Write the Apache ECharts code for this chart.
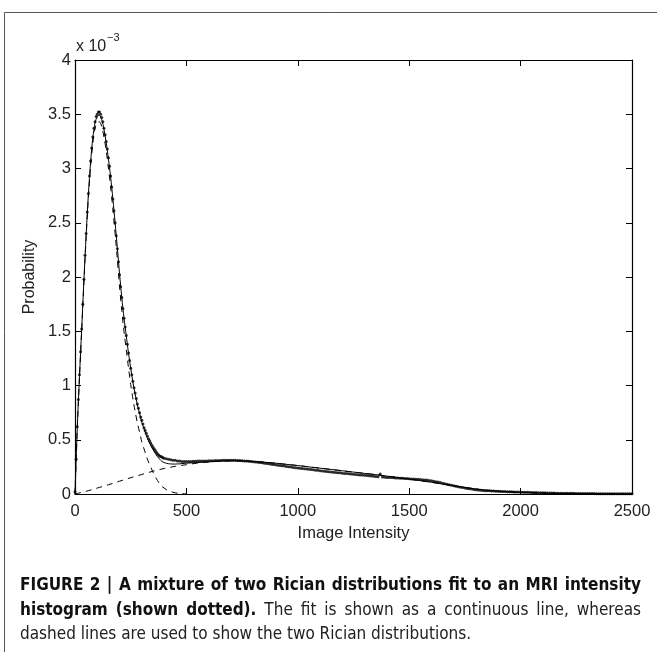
<!DOCTYPE html>
<html>
<head>
<meta charset="utf-8">
<script src="https://cdn.jsdelivr.net/npm/echarts@6/dist/echarts.min.js"></script>
<style>
html,body{margin:0;padding:0;background:#fff;}
#chart{width:657px;height:652px;}
</style>
</head>
<body>
<div id="chart"></div>
<script>
// ---- Data (probability values in units of 1e-3) ----
// Histogram, fine part: intensity 0..400 in steps of 5
var histFineStep = 5;
var histFineY = [0.02,0.32,0.62,0.87,1.1,1.31,1.52,1.75,1.98,2.2,
  2.4,2.6,2.77,2.93,3.07,3.19,3.29,3.37,3.43,3.48,
  3.5,3.52,3.52,3.5,3.47,3.43,3.37,3.31,3.25,3.18,
  3.1,3.02,2.93,2.83,2.72,2.61,2.5,2.38,2.26,2.14,
  2.02,1.91,1.81,1.71,1.62,1.54,1.46,1.38,1.3,1.23,
  1.16,1.1,1.04,0.98,0.93,0.88,0.83,0.79,0.75,0.71,
  0.68,0.645,0.61,0.585,0.56,0.535,0.51,0.49,0.47,0.45,
  0.43,0.415,0.4,0.385,0.37,0.36,0.35,0.345,0.34,0.335,
  0.33];
// Histogram, coarse part: intensity 410..2500 in steps of 10
var histCoarseStart = 410;
var histCoarseStep = 10;
var histCoarseY = [0.325,0.32,0.315,0.31,0.31,0.305,0.305,0.3,0.3,0.3,
  0.3,0.3,0.302,0.302,0.303,0.303,0.304,0.305,0.305,0.306,
  0.306,0.307,0.308,0.308,0.309,0.31,0.31,0.31,0.311,0.311,
  0.31,0.31,0.309,0.308,0.306,0.305,0.303,0.301,0.299,0.297,
  0.295,0.292,0.29,0.287,0.284,0.281,0.278,0.275,0.272,0.269,
  0.266,0.263,0.26,0.257,0.254,0.251,0.248,0.245,0.243,0.24,
  0.238,0.235,0.233,0.23,0.228,0.225,0.223,0.22,0.218,0.215,
  0.213,0.21,0.208,0.206,0.203,0.201,0.199,0.197,0.195,0.192,
  0.19,0.188,0.186,0.184,0.182,0.18,0.178,0.176,0.174,0.172,
  0.17,0.168,0.166,0.164,0.162,0.16,0.185,0.157,0.155,0.153,
  0.152,0.151,0.15,0.148,0.147,0.146,0.145,0.143,0.142,0.14,
  0.139,0.138,0.137,0.135,0.134,0.132,0.13,0.128,0.125,0.122,
  0.118,0.114,0.11,0.105,0.1,0.095,0.09,0.086,0.081,0.077,
  0.072,0.067,0.063,0.059,0.055,0.051,0.048,0.045,0.042,0.039,
  0.037,0.035,0.033,0.031,0.03,0.029,0.028,0.027,0.026,0.025,
  0.024,0.023,0.022,0.021,0.021,0.02,0.019,0.019,0.018,0.018,
  0.017,0.016,0.016,0.015,0.014,0.014,0.013,0.012,0.012,0.011,
  0.011,0.01,0.01,0.009,0.009,0.008,0.008,0.008,0.007,0.007,
  0.007,0.006,0.006,0.006,0.005,0.005,0.005,0.005,0.004,0.004,
  0.004,0.004,0.004,0.003,0.003,0.003,0.003,0.003,0.003,0.003,
  0.003,0.002,0.002,0.002,0.002,0.002,0.002,0.002,0.002,0.002];

// Mixture fit (continuous line)
var fitX = [0,10,20,30,40,50,60,70,80,90,100,110,120,130,140,150,160,170,180,190,
  200,210,220,230,240,250,260,270,280,290,300,310,320,330,340,350,360,370,380,390,
  400,410,420,430,440,450,460,470,480,490,500,
  550,600,650,700,750,800,850,900,950,1000,1050,1100,1150,1200,1250,1300,1350,1400,1450,1500,
  1550,1600,1650,1700,1750,1800,1850,1900,1950,2000,2050,2100,2150,2200,2250,2300,2350,2400,2450,2500];
var fitY = [0,0.6,1.08,1.52,1.97,2.39,2.76,3.06,3.28,3.42,3.48,3.49,3.45,3.36,3.24,3.09,2.92,2.72,2.5,2.27,
  2.03,1.81,1.62,1.46,1.3,1.16,1.03,0.92,0.82,0.74,0.66,0.6,0.54,0.49,0.45,0.41,0.375,0.345,0.32,0.3,
  0.29,0.283,0.279,0.277,0.276,0.276,0.277,0.278,0.28,0.282,0.284,
  0.29,0.297,0.303,0.306,0.305,0.3,0.293,0.284,0.273,0.262,0.25,0.238,0.226,0.214,0.202,0.19,0.178,0.165,0.151,0.137,
  0.123,0.108,0.092,0.076,0.06,0.046,0.035,0.026,0.02,0.015,0.011,0.008,0.006,0.004,0.003,0.002,0.002,0.001,0.001,0.001];

// First Rician component (dashed)
var comp1X = [0,10,20,30,40,50,60,70,80,90,100,110,120,130,140,150,160,170,180,190,
  200,210,220,230,240,250,260,270,280,290,300,310,320,330,340,350,360,370,380,390,
  400,410,420,430,440,450,460,470,480,490,500];
var comp1Y = [0,0.59,1.07,1.5,1.95,2.365,2.73,3.02,3.23,3.37,3.425,3.43,3.385,3.29,3.165,3.005,2.83,2.625,2.4,2.165,
  1.91,1.69,1.495,1.33,1.165,1.01,0.875,0.76,0.655,0.57,0.48,0.415,0.35,0.295,0.25,0.2,0.16,0.125,0.095,0.07,
  0.055,0.04,0.03,0.022,0.016,0.011,0.007,0.005,0.003,0.002,0.001];

// Second Rician component (dashed)
var comp2X = [0,50,100,150,200,250,300,350,400,450,500,550,600,650,700,750,800,850,900,950,1000,
  1050,1100,1150,1200,1250,1300,1350,1400,1450,1500,1550,1600,1650,1700,1750,1800,1850,1900,1950,2000,
  2050,2100,2150,2200,2250,2300,2350,2400,2450,2500];
var comp2Y = [0,0.025,0.055,0.085,0.118,0.15,0.18,0.21,0.235,0.255,0.27,0.285,0.295,0.302,0.306,0.305,0.3,0.293,0.284,0.273,0.262,
  0.25,0.238,0.226,0.214,0.202,0.19,0.178,0.165,0.151,0.137,0.123,0.108,0.092,0.076,0.06,0.046,0.035,0.026,0.02,0.015,
  0.011,0.008,0.006,0.004,0.003,0.002,0.002,0.001,0.001,0.001];

var xTicks = {min:0, max:2500, interval:500};
var yTicks = {min:0, max:4, interval:0.5};

// Caption (lines 1-2 justified, line 3 ragged)
var captionLines = [
  [{t:'FIGURE 2 | A mixture of two Rician distributions fit to an MRI intensity', b:true}],
  [{t:'histogram (shown dotted).', b:true}, {t:'The fit is shown as a continuous line, whereas', b:false}],
  [{t:'dashed lines are used to show the two Rician distributions.', b:false}]
];

// ---- Build series data ----
function pairs(xs, ys){ var out=[]; for(var i=0;i<ys.length;i++){ out.push([xs[i], ys[i]]); } return out; }
var histData = [];
for (var i=0;i<histFineY.length;i++) histData.push([i*histFineStep, histFineY[i]]);
for (var j=0;j<histCoarseY.length;j++) histData.push([histCoarseStart + j*histCoarseStep, histCoarseY[j]]);

var FONT = '"Liberation Sans", Arial, Helvetica, sans-serif';
var CAPFONT = '"Liberation Sans Narrow", "Arial Narrow", "DejaVu Sans Condensed", "Liberation Sans", sans-serif';
var CAPSIZE = 17;

// Justified caption words
var mctx = document.createElement('canvas').getContext('2d');
function capFont(bold){ return (bold ? 'bold ' : '') + CAPSIZE + 'px ' + CAPFONT; }
function wordWidth(w, bold){ mctx.font = capFont(bold); return mctx.measureText(w).width; }
var capLeft = 20, capRight = 641, capTop = 586, capLineH = 24.5;
var captionGraphics = [];
captionLines.forEach(function(line, li){
  var words = [];
  line.forEach(function(seg){ seg.t.split(' ').forEach(function(w){ words.push({w:w, b:seg.b}); }); });
  var justify = li < captionLines.length - 1;
  var total = 0;
  words.forEach(function(o){ o.width = wordWidth(o.w, o.b); total += o.width; });
  var gap = justify ? (capRight - capLeft - total) / (words.length - 1) : wordWidth(' ', false);
  var x = capLeft;
  words.forEach(function(o){
    captionGraphics.push({type:'text', x:x, y:capTop + li*capLineH,
      style:{text:o.w, font:capFont(o.b), fill:o.b ? '#111' : '#222', textVerticalAlign:'middle', textAlign:'left'}});
    x += o.width + gap;
  });
});

var chart = echarts.init(document.getElementById('chart'), null, {renderer:'canvas'});
var axisCommon = {
  axisLine:{show:true, onZero:false, lineStyle:{color:'#000', width:1.2}},
  axisTick:{show:true, inside:true, length:6, lineStyle:{color:'#000', width:1}},
  splitLine:{show:false}
};
var option = {
  animation:false,
  backgroundColor:'#fff',
  grid:{left:75, right:25, top:60, bottom:158, containLabel:false},
  xAxis:[
    Object.assign({type:'value', position:'bottom', min:xTicks.min, max:xTicks.max, interval:xTicks.interval,
      axisLabel:{color:'#222', fontSize:16.5, fontFamily:FONT, margin:9, formatter:function(v){ return String(v); }},
      name:'Image Intensity', nameLocation:'middle', nameGap:30,
      nameTextStyle:{color:'#222', fontSize:16.5, fontFamily:FONT}}, axisCommon),
    Object.assign({type:'value', position:'top', min:xTicks.min, max:xTicks.max, interval:xTicks.interval,
      axisLabel:{show:false}}, axisCommon)
  ],
  yAxis:[
    Object.assign({type:'value', position:'left', min:yTicks.min, max:yTicks.max, interval:yTicks.interval,
      axisLabel:{color:'#222', fontSize:16.5, fontFamily:FONT, margin:4, formatter:function(v){ return String(v); }},
      name:'Probability', nameLocation:'middle', nameGap:36,
      nameTextStyle:{color:'#222', fontSize:16, fontFamily:FONT}}, axisCommon),
    Object.assign({type:'value', position:'right', min:yTicks.min, max:yTicks.max, interval:yTicks.interval,
      axisLabel:{show:false}}, axisCommon)
  ],
  series:[
    {name:'Component 2', type:'line', xAxisIndex:0, yAxisIndex:0, data:pairs(comp2X, comp2Y), smooth:0.3,
      symbol:'none', lineStyle:{color:'#000', width:1, type:[6,5]}, z:2},
    {name:'Component 1', type:'line', xAxisIndex:0, yAxisIndex:0, data:pairs(comp1X, comp1Y), smooth:0.3,
      symbol:'none', lineStyle:{color:'#000', width:1, type:[6,5]}, z:2},
    {name:'Fit', type:'line', xAxisIndex:0, yAxisIndex:0, data:pairs(fitX, fitY), smooth:0.3,
      symbol:'none', lineStyle:{color:'#000', width:1}, z:3},
    {name:'Histogram', type:'scatter', xAxisIndex:0, yAxisIndex:0, data:histData,
      symbol:'circle', symbolSize:3, itemStyle:{color:'#000'}, z:4}
  ],
  graphic:[
    {type:'line', shape:{x1:4.5, y1:12.5, x2:657, y2:12.5}, style:{stroke:'#555', lineWidth:1}},
    {type:'line', shape:{x1:4.5, y1:12.5, x2:4.5, y2:652}, style:{stroke:'#555', lineWidth:1}},
    {type:'text', left:76, top:39, style:{text:'x 10', fill:'#222', font:'16px ' + FONT}},
    {type:'text', left:107, top:32, style:{text:'\u22123', fill:'#222', font:'11px ' + FONT}}
  ].concat(captionGraphics)
};
chart.setOption(option);
</script>
</body>
</html>
